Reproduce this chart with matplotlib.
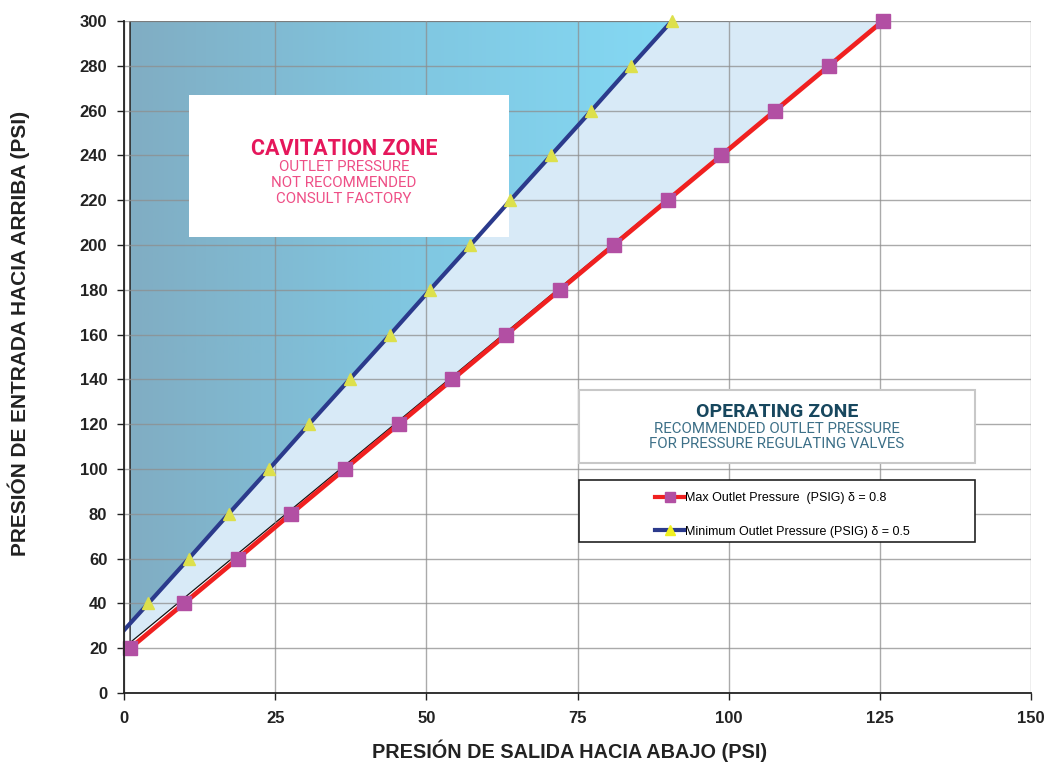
import numpy as np
import matplotlib
matplotlib.use("Agg")
import matplotlib.pyplot as plt
from matplotlib import font_manager
from matplotlib.patches import Polygon, Rectangle
from matplotlib.lines import Line2D
from matplotlib.colors import LinearSegmentedColormap

# ---------------- data ----------------
inlet_max = [20, 40, 60, 80, 100, 120, 140, 160, 180, 200, 220, 240, 260, 280, 300]
outlet_max = [1.0, 9.9, 18.8, 27.6, 36.5, 45.4, 54.3, 63.2, 72.1, 81.0, 89.9, 98.8, 107.7, 116.6, 125.5]
inlet_min = [20, 40, 60, 80, 100, 120, 140, 160, 180, 200, 220, 240, 260, 280, 300]
outlet_min = [-2.7, 4.0, 10.7, 17.3, 24.0, 30.6, 37.3, 44.0, 50.6, 57.3, 63.9, 70.6, 77.3, 83.9, 90.6]
x_ticks = [0, 25, 50, 75, 100, 125, 150]
y_ticks = list(range(0, 301, 20))
label_max = "Max Outlet Pressure  (PSIG) δ = 0.8"
label_min = "Minimum Outlet Pressure (PSIG) δ = 0.5"

# ---------------- fonts ----------------
names = {f.name for f in font_manager.fontManager.ttflist}
narrow = "Liberation Sans Narrow" if "Liberation Sans Narrow" in names else "Liberation Sans"
zone_font = "Roboto"

fig = plt.figure(figsize=(10.45, 7.63), dpi=100)
ax = fig.add_axes([0.1187, 0.0917, 0.8679, 0.8808])
ax.set_xlim(0, 150)
ax.set_ylim(0, 300)

# ---------------- zones ----------------
xl = 1.0
y_blue_left = np.interp(xl, outlet_min, inlet_min)
cav_pts = [(xl, y_blue_left), (xl, 300), (outlet_min[-1], 300)]
cav = Polygon(cav_pts, closed=True, facecolor="none", edgecolor="#333333", lw=1.2, zorder=2)
ax.add_patch(cav)
cmap = LinearSegmentedColormap.from_list("cav", ["#80ADC3", "#80C6E0", "#84D9F4"])
grad = np.linspace(0, 1, 256).reshape(1, -1)
im = ax.imshow(grad, extent=[xl, outlet_min[-1], 0, 300], aspect="auto", cmap=cmap,
               origin="lower", zorder=0.5)
clip = Polygon(cav_pts, closed=True, transform=ax.transData)
im.set_clip_path(clip)

op_pts = [(xl, 22.5), (xl, y_blue_left), (outlet_min[-1], 300), (outlet_max[-1], 300)]
op = Polygon(op_pts, closed=True, facecolor="#D8EAF7", edgecolor="#111111", lw=0.9, zorder=0.6)
ax.add_patch(op)

# ---------------- grid ----------------
ax.set_xticks(x_ticks)
ax.set_yticks(y_ticks)
ax.grid(True, color="#8E8E8E", lw=1.0, alpha=0.75, zorder=1)
ax.set_axisbelow(False)
for gl in ax.get_xgridlines() + ax.get_ygridlines():
    gl.set_zorder(1)

# ---------------- annotation boxes ----------------
ax.add_patch(Rectangle((0.0717, 0.6786), 0.3528, 0.2113, transform=ax.transAxes,
                       facecolor="white", edgecolor="none", zorder=3))
ax.text(0.2426, 0.8095, "CAVITATION ZONE", transform=ax.transAxes, ha="center", va="center",
        fontsize=15.5, fontweight="bold", color="#E5175B", family=zone_font, zorder=4)
for i, t in enumerate(["OUTLET PRESSURE", "NOT RECOMMENDED", "CONSULT FACTORY"]):
    ax.text(0.2426, 0.7820 - i * 0.0238, t, transform=ax.transAxes, ha="center", va="center",
            fontsize=10.8, color="#EE4F86", family=zone_font, zorder=4)

ax.add_patch(Rectangle((0.5017, 0.3423), 0.4366, 0.1086, transform=ax.transAxes,
                       facecolor="white", edgecolor="#C8C8C8", lw=1.5, zorder=3))
ax.text(0.7200, 0.4180, "OPERATING ZONE", transform=ax.transAxes, ha="center", va="center",
        fontsize=14, fontweight="bold", color="#17475E", family=zone_font, zorder=4)
for i, t in enumerate(["RECOMMENDED OUTLET PRESSURE", "FOR PRESSURE REGULATING VALVES"]):
    ax.text(0.7200, 0.3925 - i * 0.0225, t, transform=ax.transAxes, ha="center", va="center",
            fontsize=10.8, color="#3D7088", family=zone_font, zorder=4)

# ---------------- series ----------------
ax.plot(outlet_max, inlet_max, color="#F02020", lw=3.4, zorder=5, solid_capstyle="butt")
ax.plot(outlet_max, inlet_max, ls="none", marker="s", ms=10, mfc="#B24FA3", mec="#B24FA3",
        zorder=6, clip_on=False)
ax.plot(outlet_min, inlet_min, color="#2B3A8C", lw=3.0, zorder=5)
ax.plot(outlet_min[1:], inlet_min[1:], ls="none", marker="^", ms=9, mfc="#DDE04C",
        mec="#DDE04C", zorder=6, clip_on=False)

# ---------------- legend ----------------
ax.add_patch(Rectangle((0.5017, 0.2247), 0.4366, 0.0923, transform=ax.transAxes,
                       facecolor="white", edgecolor="#222222", lw=1.2, zorder=3))
h1 = Line2D([], [], color="#F02020", lw=3, marker="s", ms=7, mfc="#B24FA3", mec="#B24FA3")
h2 = Line2D([], [], color="#2B3A8C", lw=3, marker="^", ms=7, mfc="#F0F020", mec="#F0F020")
leg = ax.legend([h1, h2], [label_max, label_min], loc="center left",
                bbox_to_anchor=(0.5790, 0.2650), frameon=False, handlelength=2.3,
                handletextpad=0.1, labelspacing=1.7, borderpad=0,
                prop={"family": "Liberation Sans", "size": 9})
leg.set_zorder(7)

# ---------------- axes styling ----------------
for s in ["top", "right"]:
    ax.spines[s].set_visible(False)
for s in ["left", "bottom"]:
    ax.spines[s].set_color("#222222")
    ax.spines[s].set_linewidth(1.3)
    ax.spines[s].set_zorder(8)
ax.tick_params(axis="both", direction="out", length=5, width=1, color="#222222")
ax.tick_params(axis="x", pad=8)
ax.tick_params(axis="y", pad=7)
for lab in ax.get_xticklabels() + ax.get_yticklabels():
    lab.set_family(narrow)
    lab.set_fontweight("bold")
    lab.set_fontsize(12)
    lab.set_color("#222222")

fig.text(0.5455, 0.0157, "PRESIÓN DE SALIDA HACIA ABAJO (PSI)", ha="center", va="center",
         family=narrow, fontweight="bold", fontsize=14.3, color="#222222")
fig.text(0.0175, 0.5635, "PRESIÓN DE ENTRADA HACIA ARRIBA (PSI)", ha="center", va="center",
         rotation=90, family=narrow, fontweight="bold", fontsize=15, color="#222222")

fig.savefig("out.png", dpi=100)
